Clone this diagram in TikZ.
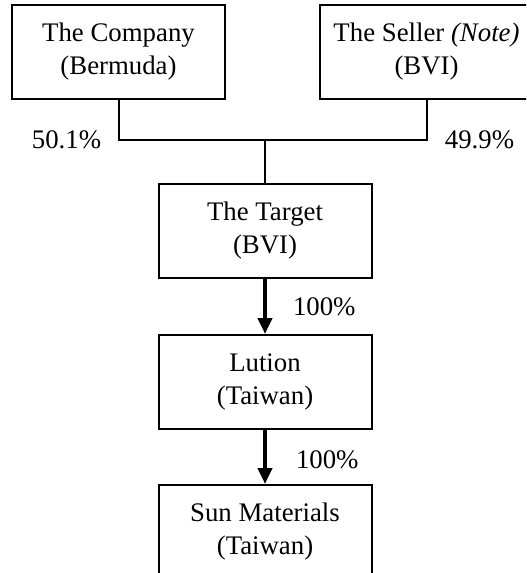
\documentclass[tikz,border=0pt]{standalone}
\usepackage{fontspec}
\setmainfont{Liberation Serif}
\usetikzlibrary{
  arrows.meta,
  positioning
}

\begin{document}
\begin{tikzpicture}[
      x=0.5pt, y=-0.5pt,
      entity/.style={
        rectangle,
        minimum width=106.5pt, minimum height=47pt, inner sep=0pt,
        draw=black, line width=1pt, fill=white,
        font=\fontsize{13.4}{16.5}\selectfont, align=center
      },
      bus/.style={line width=1pt, black},
      own/.style={-{Triangle[length=8pt, width=7pt]}, line width=2pt, black},
      pct/.style={font=\fontsize{13.4}{16.5}\selectfont, inner sep=0pt}
    ]
      \useasboundingbox (0,0) rectangle (526,573);
      \clip (0,0) rectangle (526,573);

      % Shareholders
      \node[entity] (company) at (118.5,52) {The Company\\(Bermuda)};
      \node[entity, right=46.5pt of company] (seller) {The Seller \textit{(Note)}\\(BVI)};

      % Target and subsidiaries
      \node[entity] (target) at (265,231) {The Target\\(BVI)};
      \node[entity, below=27.5pt of target] (lution) {Lution\\(Taiwan)};
      \node[entity, below=27pt of lution] (sun) {Sun Materials\\(Taiwan)};

      % Shareholding line
      \coordinate (bus) at (target.north |- 0,140);
      \coordinate (busL) at (company.south |- bus);
      \coordinate (busR) at (seller.south |- bus);
      \draw[bus] (company.south) -- (busL) -- (busR) -- (seller.south);
      \draw[bus] (bus) -- (target.north);
      \node[pct, left=8.5pt of busL] (pctcompany) {50.1\%};
      \node[pct, right=9pt of busR] (pctseller) {49.9\%};

      % Arrows
      \draw[own] (target) -- node[pct, right=13pt] (pcttarget) {100\%} (lution);
      \draw[own] (lution) -- node[pct, right=14.5pt, yshift=-1.5pt] (pctlution) {100\%} (sun);
    \end{tikzpicture}
\end{document}
